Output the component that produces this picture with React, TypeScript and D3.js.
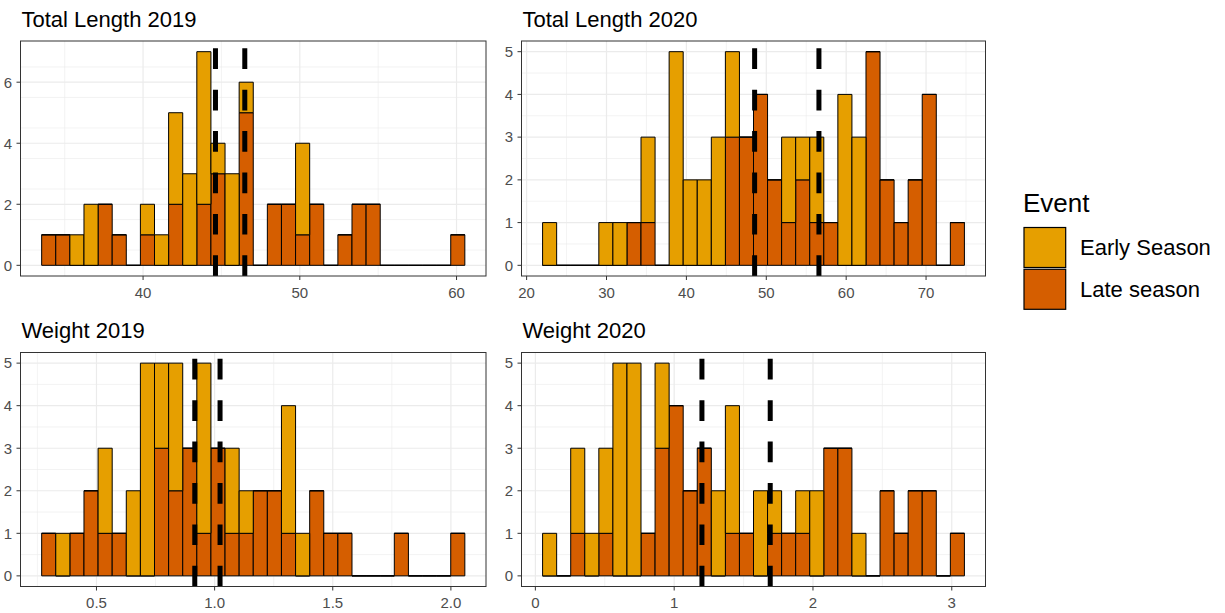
import React from "react";
import * as d3 from "d3";

// Stacked histogram counts (30 bins per panel), early and late season
const tl2019Early = [0,0,1,2,0,0,0,1,1,3,3,5,1,3,1,0,0,0,3,0,0,0,0,0,0,0,0,0,0,0];
const tl2019Late  = [1,1,0,0,2,1,0,1,0,2,0,2,3,0,5,0,2,2,1,2,0,1,2,2,0,0,0,0,0,1];
const tl2020Early = [1,0,0,0,1,1,0,2,0,5,2,2,3,2,0,0,0,2,1,2,0,4,3,0,0,0,0,0,0,0];
const tl2020Late  = [0,0,0,0,0,0,1,1,0,0,0,0,0,3,3,4,2,1,2,1,1,0,0,5,2,1,2,4,0,1];
const wt2019Early = [0,1,0,0,2,0,2,5,2,3,0,4,0,2,1,0,0,3,1,0,0,0,0,0,0,0,0,0,0,0];
const wt2019Late  = [1,0,1,2,1,1,0,0,3,2,3,1,3,1,1,2,2,1,0,2,1,1,0,0,0,1,0,0,0,1];
const wt2020Early = [1,0,2,1,2,5,5,0,2,0,0,0,2,3,0,2,1,0,1,2,0,0,1,0,0,0,0,0,0,0];
const wt2020Late  = [0,0,1,0,1,0,0,1,3,4,2,3,0,1,1,0,1,1,1,0,3,3,0,0,2,1,2,2,0,1];

// Bin layout: left edge of the first bin and the bin width
const binStarts = [33.53, 22.0, 0.268, 0.052];
const binWidths = [0.9, 1.76, 0.0597, 0.1013];

// Group means drawn as dashed reference lines
const tl2019Means = [44.62, 46.49];
const tl2020Means = [48.54, 56.59];
const wt2019Means = [0.916, 1.023];
const wt2020Means = [1.2, 1.692];

// Axis breaks
const tl2019XTicks = [40, 50, 60];
const tl2020XTicks = [20, 30, 40, 50, 60, 70];
const wt2019XTicks = [0.5, 1.0, 1.5, 2.0];
const wt2020XTicks = [0, 1, 2, 3];
const tl2019XMinor = [35, 45, 55];
const tl2020XMinor = [25, 35, 45, 55, 65, 75];
const wt2019XMinor = [0.25, 0.75, 1.25, 1.75];
const wt2020XMinor = [0.5, 1.5, 2.5];
const tl2019YTicks = [0, 2, 4, 6];
const countYTicks = [0, 1, 2, 3, 4, 5];

const titles = ["Total Length 2019", "Total Length 2020", "Weight 2019", "Weight 2020"];
const seriesNames = ["Early Season", "Late season"];
const seriesColors = ["#E69F00", "#D55E00"];

const FONT = "'Liberation Sans', Arial, sans-serif";
const GRID = "#EBEBEB";

type PanelSpec = {
  title: string;
  early: number[];
  late: number[];
  start: number;
  width: number;
  means: number[];
  xTicks: number[];
  xMinor: number[];
  yTicks: number[];
  fmt: (v: number) => string;
  box: { left: number; right: number; top: number; bottom: number };
};

function Panel({ p }: { p: PanelSpec }) {
  const n = p.early.length;
  const x0 = p.start;
  const x1 = p.start + n * p.width;
  const pad = (x1 - x0) * 0.05;
  const x = d3.scaleLinear().domain([x0 - pad, x1 + pad]).range([p.box.left, p.box.right]);
  const totals = p.early.map((e, i) => e + p.late[i]);
  const ymax = d3.max(totals) as number;
  const y = d3.scaleLinear().domain([-ymax * 0.05, ymax * 1.05]).range([p.box.bottom, p.box.top]);
  const yMinor = d3.range(0.5, ymax * 1.05, 1).filter((v) => !p.yTicks.includes(v));
  const bars: React.ReactElement[] = [];
  const seg = (key: string, i: number, lo: number, hi: number, fill: string) => {
    const a = x(p.start + i * p.width);
    const b = x(p.start + (i + 1) * p.width);
    const yl = y(lo);
    const yh = y(hi);
    bars.push(
      <path key={key} d={`M${a},${yl}H${b}V${yh}H${a}Z`} fill={fill} stroke="#000" strokeWidth={1} />
    );
  };
  p.late.forEach((v, i) => seg(`l${i}`, i, 0, v, seriesColors[1]));
  p.early.forEach((v, i) => seg(`e${i}`, i, p.late[i], p.late[i] + v, seriesColors[0]));
  const { left, right, top, bottom } = p.box;
  return (
    <g>
      <text x={left + 1} y={top - 14.5} fontFamily={FONT} fontSize={22} fill="#000">{p.title}</text>
      {p.xMinor.map((v) => (
        <line key={`xm${v}`} x1={x(v)} x2={x(v)} y1={top} y2={bottom} stroke={GRID} strokeWidth={0.6} />
      ))}
      {yMinor.map((v) => (
        <line key={`ym${v}`} x1={left} x2={right} y1={y(v)} y2={y(v)} stroke={GRID} strokeWidth={0.6} />
      ))}
      {p.xTicks.map((v) => (
        <line key={`xg${v}`} x1={x(v)} x2={x(v)} y1={top} y2={bottom} stroke={GRID} strokeWidth={1.2} />
      ))}
      {p.yTicks.map((v) => (
        <line key={`yg${v}`} x1={left} x2={right} y1={y(v)} y2={y(v)} stroke={GRID} strokeWidth={1.2} />
      ))}
      {bars}
      {p.means.map((m, i) => (
        <line key={`m${i}`} x1={x(m)} x2={x(m)} y1={bottom} y2={top} stroke="#000" strokeWidth={5}
          strokeDasharray="20.7 20.7" />
      ))}
      <rect x={left} y={top} width={right - left} height={bottom - top} fill="none" stroke="#333" strokeWidth={1} />
      {p.xTicks.map((v) => (
        <g key={`xt${v}`}>
          <line x1={x(v)} x2={x(v)} y1={bottom} y2={bottom + 4} stroke="#333" strokeWidth={1} />
          <text x={x(v)} y={bottom + 21.5} textAnchor="middle" fontFamily={FONT} fontSize={15} fill="#4D4D4D">
            {p.fmt(v)}
          </text>
        </g>
      ))}
      {p.yTicks.map((v) => (
        <g key={`yt${v}`}>
          <line x1={left - 4} x2={left} y1={y(v)} y2={y(v)} stroke="#333" strokeWidth={1} />
          <text x={left - 8.5} y={y(v) + 5.3} textAnchor="end" fontFamily={FONT} fontSize={15} fill="#4D4D4D">
            {v}
          </text>
        </g>
      ))}
    </g>
  );
}

export default function App() {
  const boxes = [
    { left: 20.5, right: 486, top: 41, bottom: 276 },
    { left: 521.5, right: 985.5, top: 41, bottom: 276 },
    { left: 20.5, right: 486, top: 352.5, bottom: 586.5 },
    { left: 521.5, right: 985.5, top: 352.5, bottom: 586.5 },
  ];
  const panels: PanelSpec[] = [
    { title: titles[0], early: tl2019Early, late: tl2019Late, start: binStarts[0], width: binWidths[0],
      means: tl2019Means, xTicks: tl2019XTicks, xMinor: tl2019XMinor, yTicks: tl2019YTicks,
      fmt: (v) => String(v), box: boxes[0] },
    { title: titles[1], early: tl2020Early, late: tl2020Late, start: binStarts[1], width: binWidths[1],
      means: tl2020Means, xTicks: tl2020XTicks, xMinor: tl2020XMinor, yTicks: countYTicks,
      fmt: (v) => String(v), box: boxes[1] },
    { title: titles[2], early: wt2019Early, late: wt2019Late, start: binStarts[2], width: binWidths[2],
      means: wt2019Means, xTicks: wt2019XTicks, xMinor: wt2019XMinor, yTicks: countYTicks,
      fmt: (v) => v.toFixed(1), box: boxes[2] },
    { title: titles[3], early: wt2020Early, late: wt2020Late, start: binStarts[3], width: binWidths[3],
      means: wt2020Means, xTicks: wt2020XTicks, xMinor: wt2020XMinor, yTicks: countYTicks,
      fmt: (v) => String(v), box: boxes[3] },
  ];
  return (
    <svg width={1225} height={613} style={{ position: "absolute", left: 0, top: 0, background: "#fff" }}>
      <rect x={0} y={0} width={1225} height={613} fill="#fff" />
      {panels.map((p, i) => <Panel key={i} p={p} />)}
      <g>
        <text x={1023} y={212} fontFamily={FONT} fontSize={26} fill="#000">Event</text>
        {seriesNames.map((name, i) => (
          <g key={name}>
            <rect x={1024} y={227.5 + i * 41.8} width={41.7} height={40} fill={seriesColors[i]} stroke="#000" strokeWidth={1.2} />
            <text x={1080} y={255 + i * 41.8} fontFamily={FONT} fontSize={22} fill="#000">{name}</text>
          </g>
        ))}
      </g>
    </svg>
  );
}
